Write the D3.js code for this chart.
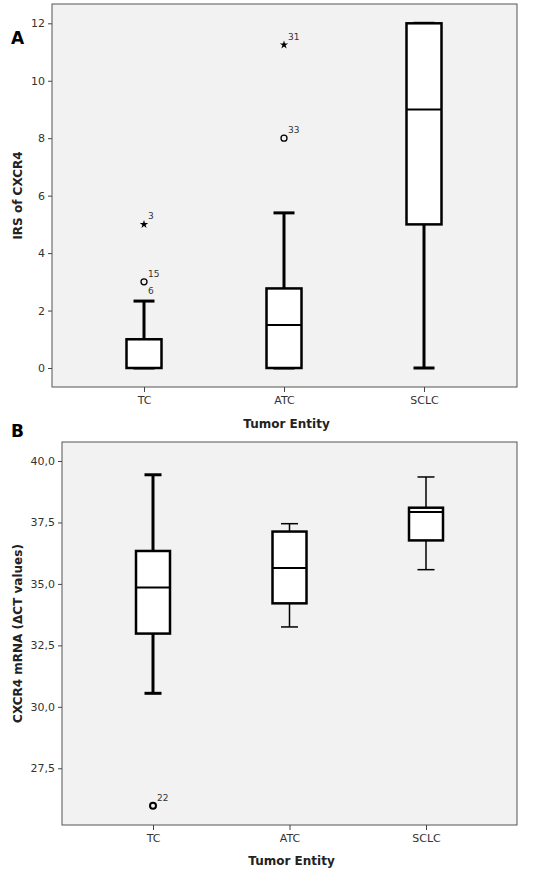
<!DOCTYPE html><html><head><meta charset="utf-8"><script src="https://cdn.jsdelivr.net/npm/d3@7"></script>
<style>body{margin:0;background:#fff}text{font-family:"DejaVu Sans",sans-serif}</style></head><body><svg id="c" width="550" height="879"></svg>
<script>
const categories=["TC","ATC","SCLC"];
// [whiskerLow, Q1, median, Q3, whiskerHigh]
const irsStats=[[0,0,0,1,2.33],[0,0,1.5,2.77,5.4],[0,5,9,12,12]];
const irsOutliers=[{c:"TC",v:5,t:"star",l:"3"},{c:"TC",v:3,t:"circle",l:"15"},{c:"ATC",v:11.25,t:"star",l:"31"},{c:"ATC",v:8,t:"circle",l:"33"}];
const irsTicks=[0,2,4,6,8,10,12];
const mrnaStats=[[30.55,32.98,34.85,36.34,39.44],[33.25,34.21,35.65,37.13,37.45],[35.58,36.77,37.93,38.1,39.35]];
const mrnaOutliers=[{c:"TC",v:25.98,t:"circle",l:"22"}];
const mrnaTicks=[27.5,30,32.5,35,37.5,40];
const svg=d3.select("#c");
function panel(o){
 const g=svg.append("g");
 g.append("rect").attr("x",o.l).attr("y",o.t).attr("width",o.r-o.l).attr("height",o.b-o.t).attr("fill","#f2f2f2").attr("stroke","#555").attr("stroke-width",1);
 const y=d3.scaleLinear().domain(o.dom).range(o.rng);
 const x=d3.scalePoint().domain(categories).range(o.xr);
 const ya=g.append("g").attr("transform",`translate(${o.l},0)`).call(d3.axisLeft(y).tickValues(o.ticks).tickSize(4).tickFormat(o.fmt));
 const xa=g.append("g").attr("transform",`translate(0,${o.b})`).call(d3.axisBottom(x).tickSize(5).tickPadding(4));
 [ya,xa].forEach(a=>{a.select(".domain").remove();a.selectAll("line").attr("stroke","#444");a.selectAll("text").attr("fill","#333").style("font-size","11px");});
 o.stats.forEach((s,i)=>{
  const cx=x(categories[i]),w=o.bw,sw=o.sw(i),cw=o.cw;
  g.append("line").attr("x1",cx).attr("x2",cx).attr("y1",y(s[0])).attr("y2",y(s[1])).attr("stroke","#000").attr("stroke-width",sw);
  g.append("line").attr("x1",cx).attr("x2",cx).attr("y1",y(s[3])).attr("y2",y(s[4])).attr("stroke","#000").attr("stroke-width",sw);
  [s[0],s[4]].forEach(v=>g.append("line").attr("x1",cx-cw/2).attr("x2",cx+cw/2).attr("y1",y(v)).attr("y2",y(v)).attr("stroke","#000").attr("stroke-width",sw));
  g.append("rect").attr("x",cx-w/2).attr("y",y(s[3])).attr("width",w).attr("height",Math.max(0,y(s[1])-y(s[3]))).attr("fill","#fff").attr("stroke","#000").attr("stroke-width",2.5);
  g.append("line").attr("x1",cx-w/2).attr("x2",cx+w/2).attr("y1",y(s[2])).attr("y2",y(s[2])).attr("stroke","#000").attr("stroke-width",2);
 });
 o.out.forEach(d=>{
  const cx=x(d.c),cy=y(d.v);
  if(d.t==="star")g.append("path").attr("d",d3.symbol(d3.symbolStar,22)()).attr("transform",`translate(${cx},${cy})`).attr("fill","#000");
  else g.append("circle").attr("cx",cx).attr("cy",cy).attr("r",o.cr).attr("fill","none").attr("stroke","#000").attr("stroke-width",o.cs);
  g.append("text").attr("x",cx+4).attr("y",cy-5).text(d.l).style("font-size","9px").attr("fill","#333");
  if(d.l==="15")g.append("text").attr("x",cx+4).attr("y",cy+12).text("6").style("font-size","9px").attr("fill","#333");
 });
 g.append("text").attr("transform",`translate(${o.yl},${(o.t+o.b)/2}) rotate(-90)`).attr("text-anchor","middle").style("font-size","12px").style("font-weight","bold").attr("fill","#222").text(o.ytitle);
 g.append("text").attr("x",(o.l+o.r)/2+2).attr("y",o.xt).attr("text-anchor","middle").style("font-size","12px").style("font-weight","bold").attr("fill","#222").text("Tumor Entity");
 g.append("text").attr("x",11).attr("y",o.lab[1]).style("font-size","17px").style("font-weight","bold").text(o.lab[0]);
}
panel({l:52,r:517,t:4,b:387,dom:[0,12],rng:[368,23.3],xr:[144,424],ticks:irsTicks,fmt:d3.format("d"),stats:irsStats,out:irsOutliers,bw:35,cw:21,sw:()=>3,cr:3,cs:1.3,ytitle:"IRS of CXCR4",yl:22,xt:428,lab:["A",44]});
panel({l:62,r:517,t:442,b:825,dom:[27.5,40],rng:[768.3,461],xr:[153,426],ticks:mrnaTicks,fmt:d=>d3.format(".1f")(d).replace(".",","),stats:mrnaStats,out:mrnaOutliers,bw:34,cw:17,sw:i=>i===0?3:1.5,cr:3,cs:2,ytitle:"CXCR4 mRNA (ΔCT values)",yl:22,xt:865,lab:["B",437]});
</script></body></html>
